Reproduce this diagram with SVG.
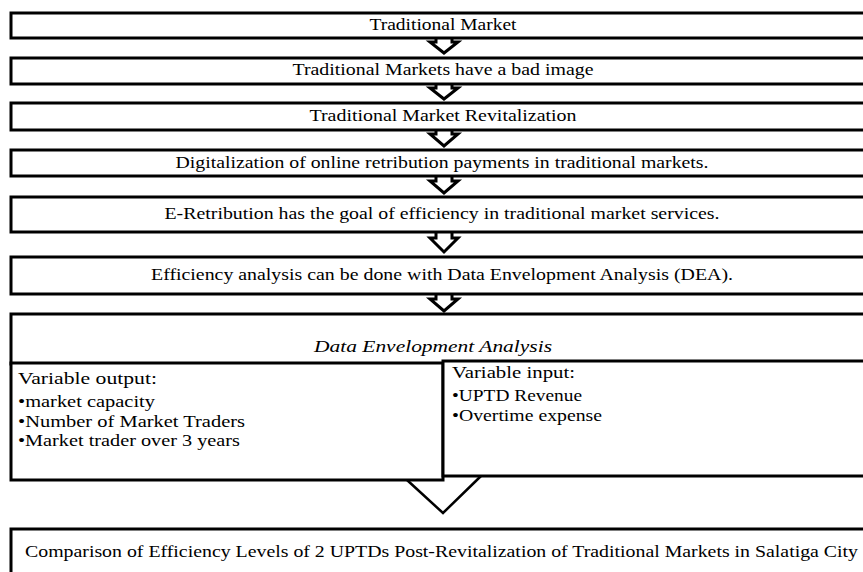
<svg xmlns="http://www.w3.org/2000/svg" width="863" height="572" viewBox="0 0 863 572">
<style>
.box{fill:#fff;stroke:#000;stroke-width:3}
.arr{fill:#fff;stroke:#000;stroke-width:3;stroke-linejoin:miter}
.t{font-family:"Liberation Serif","Times New Roman",serif;font-size:17px;fill:#000}
.c{text-anchor:middle}
.i{font-style:italic}
</style>
<rect width="863" height="572" fill="#fff"/>
<g id="connectors">
<path class="arr" d="M436,38 V42 H430 L444,53 L458,42 H452 V38"/>
<path class="arr" d="M436,84 V88 H430 L444,99 L458,88 H452 V84"/>
<path class="arr" d="M436,130 V134 H430 L444,146 L458,134 H452 V130"/>
<path class="arr" d="M436,176 V181 H430 L444,193 L458,181 H452 V176"/>
<path class="arr" d="M436,232 V238 H430 L444,252 L458,238 H452 V232"/>
<path class="arr" d="M436,294 V299 H430 L444,311 L458,299 H452 V294"/>
<polyline points="407,480 443,513 481,476" fill="none" stroke="#000" stroke-width="2.5"/>
</g>
<g id="n1"><rect class="box" x="11" y="13" width="880" height="25"/><text class="t c" x="443" y="30" textLength="147" lengthAdjust="spacingAndGlyphs">Traditional Market</text></g>
<g id="n2"><rect class="box" x="11" y="58" width="880" height="26"/><text class="t c" x="443" y="75" textLength="301" lengthAdjust="spacingAndGlyphs">Traditional Markets have a bad image</text></g>
<g id="n3"><rect class="box" x="11" y="103" width="880" height="27"/><text class="t c" x="443" y="121" textLength="267" lengthAdjust="spacingAndGlyphs">Traditional Market Revitalization</text></g>
<g id="n4"><rect class="box" x="11" y="150" width="880" height="26"/><text class="t c" x="442" y="168" textLength="533" lengthAdjust="spacingAndGlyphs">Digitalization of online retribution payments  in traditional markets.</text></g>
<g id="n5"><rect class="box" x="11" y="197" width="880" height="35"/><text class="t c" x="442" y="219" textLength="555" lengthAdjust="spacingAndGlyphs">E-Retribution has the goal of efficiency  in traditional market services.</text></g>
<g id="n6"><rect class="box" x="11" y="257" width="880" height="37"/><text class="t c" x="442" y="280" textLength="582" lengthAdjust="spacingAndGlyphs">Efficiency analysis can be done with Data Envelopment Analysis (DEA).</text></g>
<g id="n7"><rect class="box" x="11" y="314" width="880" height="50"/><text class="t c i" x="433" y="352" textLength="238" lengthAdjust="spacingAndGlyphs">Data Envelopment Analysis</text></g>
<g id="n8"><rect class="box" x="11" y="363" width="432" height="117"/>
<text class="t" x="18" y="384" textLength="139" lengthAdjust="spacingAndGlyphs">Variable output:</text>
<text class="t" x="18" y="407" textLength="137" lengthAdjust="spacingAndGlyphs">•market capacity</text>
<text class="t" x="18" y="427" textLength="227" lengthAdjust="spacingAndGlyphs">•Number of Market Traders</text>
<text class="t" x="18" y="446" textLength="222" lengthAdjust="spacingAndGlyphs">•Market trader over 3 years</text></g>
<g id="n9"><rect class="box" x="443" y="361" width="448" height="115"/>
<text class="t" x="452" y="378" textLength="123" lengthAdjust="spacingAndGlyphs">Variable input:</text>
<text class="t" x="452" y="401" textLength="130" lengthAdjust="spacingAndGlyphs">•UPTD Revenue</text>
<text class="t" x="452" y="421" textLength="150" lengthAdjust="spacingAndGlyphs">•Overtime expense</text></g>
<g id="n10"><rect class="box" x="11" y="529" width="880" height="60"/><text class="t" x="25" y="557" textLength="833" lengthAdjust="spacingAndGlyphs">Comparison of Efficiency Levels of 2 UPTDs Post-Revitalization of Traditional Markets in Salatiga City</text></g>
</svg>
